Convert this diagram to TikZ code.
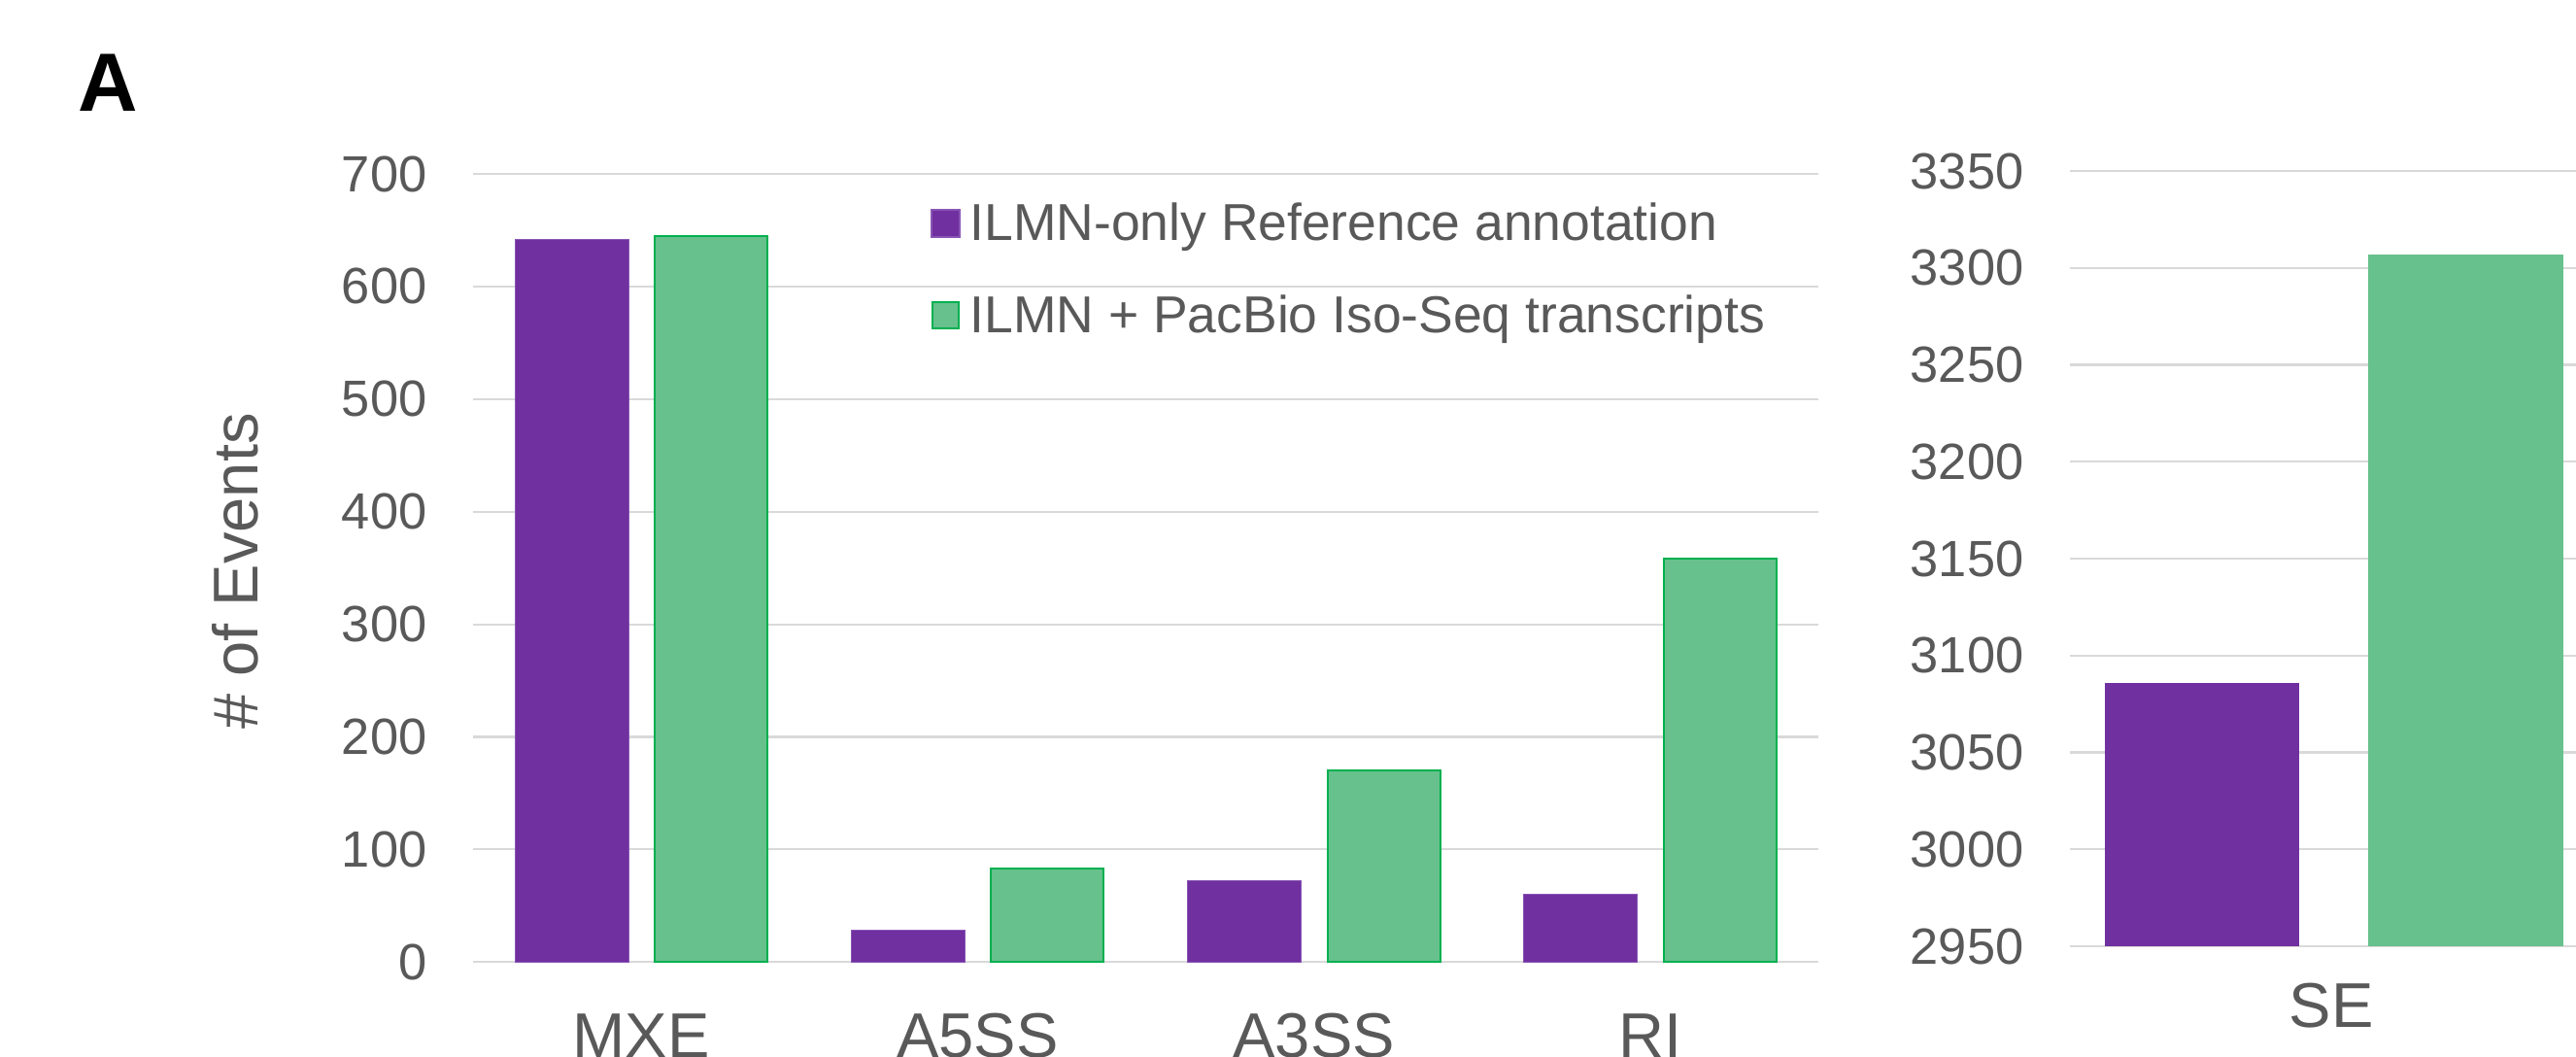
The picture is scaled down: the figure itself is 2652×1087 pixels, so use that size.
\documentclass[tikz,border=0pt]{standalone}
\usepackage{fontspec}
\setmainfont{Liberation Sans}
\definecolor{barpurple}{HTML}{7030A0}
\definecolor{barpurpleedge}{HTML}{8A55B5}
\definecolor{bargreen}{RGB}{103,193,140}
\definecolor{bargreenedge}{HTML}{00B050}
\definecolor{txtgray}{HTML}{595959}
\definecolor{gridgray}{HTML}{D9D9D9}
\tikzset{
  gridline/.style={draw=gridgray, line width=0.6pt},
  purplebar/.style={fill=barpurple, draw=barpurpleedge, line width=0.3pt},
  greenbar/.style={fill=bargreen, draw=bargreenedge, line width=0.6pt},
  greenbarplain/.style={fill=bargreen},
  purplebarplain/.style={fill=barpurple},
  ticklabel/.style={text=txtgray, anchor=east, inner sep=0pt, font=\fontsize{14.9pt}{16pt}\selectfont},
  catlabel/.style={text=txtgray, anchor=base, inner sep=0pt, font=\fontsize{18.5pt}{20pt}\selectfont},
  legendtext/.style={text=txtgray, anchor=base west, inner sep=0pt, font=\fontsize{15.2pt}{16pt}\selectfont},
  paneltitle/.style={text=black, anchor=base west, inner sep=0pt, font=\fontsize{24.2pt}{26pt}\selectfont\bfseries}
}
\begin{document}
\begin{tikzpicture}[x=0.01cm, y=-0.01cm]
\useasboundingbox (0,0) rectangle (2652,1087);
\fill[white] (0,0) rectangle (2652,1087);

% panel letter
\node[paneltitle] (panelA) at (80,114) {A};

% ---------- left chart ----------
% gridlines: 0 at 990.3, 100 units = 115.9 px
\foreach \v [count=\i] in {0,100,...,700}{
  \pgfmathsetmacro{\yy}{990.3-\v*1.159}
  \draw[gridline] (487,\yy) -- (1872,\yy);
  \node[ticklabel] (lt\i) at (440,\yy) {\v};
}
% bars
\foreach \c/\p/\g/\lab [count=\i] in {660.1/642/645/MXE, 1006.4/28/83/A5SS, 1352.6/72/170/A3SS, 1698.9/60/358/RI}{
  \pgfmathsetmacro{\yp}{990.3-\p*1.159}
  \pgfmathsetmacro{\yg}{990.3-\g*1.159}
  \filldraw[purplebar] (\c-130,990.3) rectangle (\c-13,\yp);
  \filldraw[greenbar] (\c+14,990.3) rectangle (\c+130,\yg);
  \node[catlabel] (cat\i) at (\c,1088.5) {\lab};
}

% y axis title
\node[text=txtgray, rotate=90, anchor=base, inner sep=0pt, font=\fontsize{18.5pt}{20pt}\selectfont] (ytitle) at (265,588) {\# of Events};

% legend
\filldraw[purplebar] (959,216) rectangle (988,244);
\node[legendtext] (leg1) at (998,247.3) {ILMN-only Reference annotation};
\filldraw[greenbar] (960,311) rectangle (987,338);
\node[legendtext] (leg2) at (998,342.3) {ILMN + PacBio Iso-Seq transcripts};

% ---------- right chart ----------
\foreach \v [count=\i] in {2950,3000,...,3350}{
  \pgfmathsetmacro{\yy}{974-(\v-2950)*1.995}
  \draw[gridline] (2131,\yy) -- (2652,\yy);
  \node[ticklabel] (rt\i) at (2084,\yy) {\v};
}
\pgfmathsetmacro{\ypr}{974-(3086-2950)*1.995}
\pgfmathsetmacro{\ygr}{974-(3307-2950)*1.995}
\fill[purplebarplain] (2167,974) rectangle (2367,\ypr);
\fill[greenbarplain] (2438,974) rectangle (2639,\ygr);
\node[catlabel] (catSE) at (2400,1057) {SE};
\end{tikzpicture}
\end{document}
